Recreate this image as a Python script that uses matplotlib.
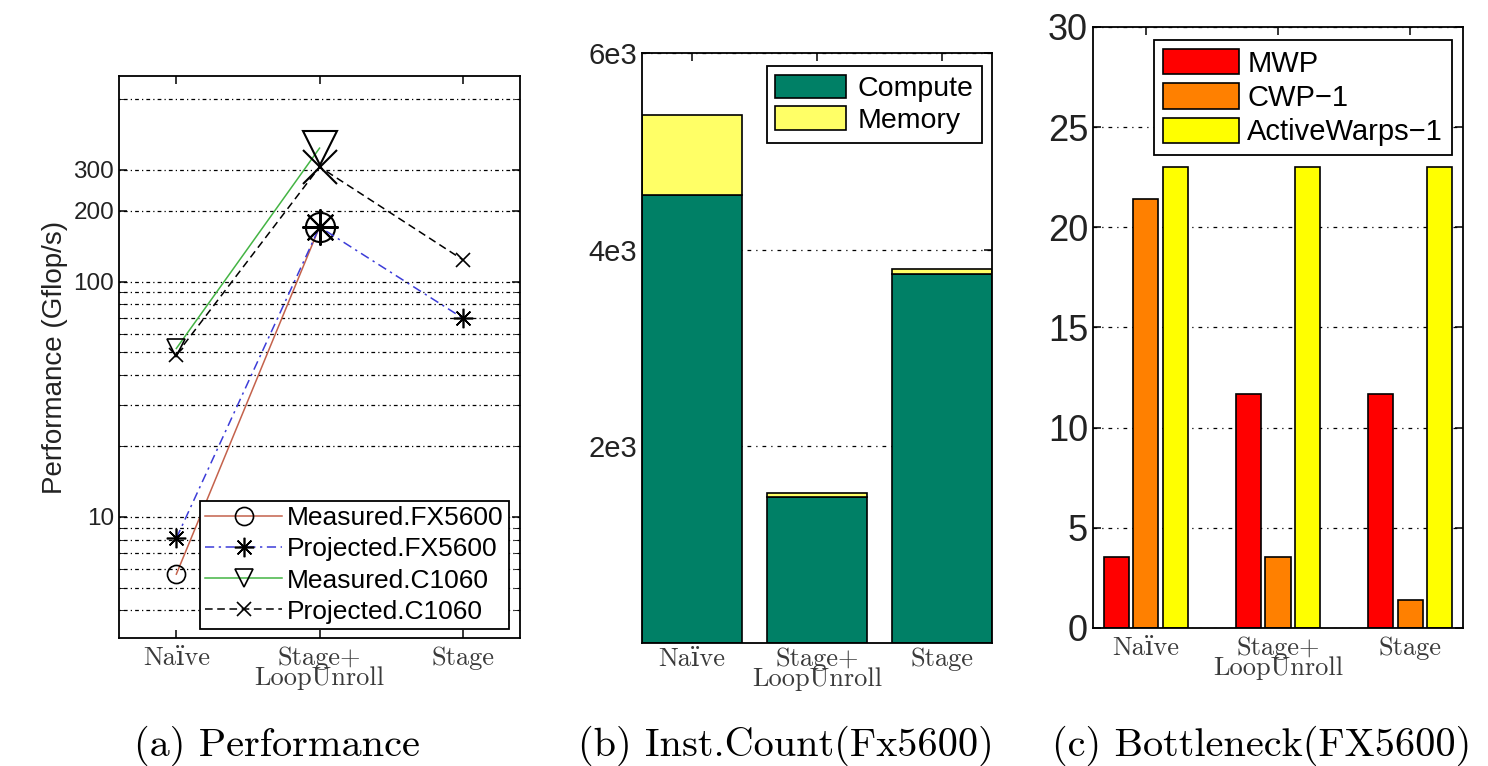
import numpy as np
import matplotlib
matplotlib.use("Agg")
from matplotlib import pyplot as plt
from matplotlib.ticker import FixedLocator, NullFormatter

# categories shared by all three panels
categories = ['Naïve', 'Stage+\nLoopUnroll', 'Stage']

# (a) performance in Gflop/s
perf_measured_fx5600 = [5.7, 171, np.nan]
perf_projected_fx5600 = [8.1, 171, 70]
perf_measured_c1060 = [52, 370, np.nan]
perf_projected_c1060 = [49, 308, 124]

# (b) instruction count split
inst_compute = [4560, 1480, 3750]
inst_memory = [810, 50, 50]

# (c) bottleneck numbers
mwp = [3.55, 11.7, 11.7]
cwp_1 = [21.4, 3.55, 1.4]
active_warps_1 = [23, 23, 23]

sans = ['Liberation Sans', 'DejaVu Sans']
serif = ['cmr10', 'DejaVu Serif']
plt.rcParams['font.family'] = sans
plt.rcParams['axes.linewidth'] = 1.3

grid_dots = (0, (1, 2.5, 3, 2.5))
grid_dashdot = (0, (3, 4, 1, 4))

fig = plt.figure(figsize=(14.88, 7.66), dpi=100)
ax_a = fig.add_axes([0.0800, 0.1671, 0.2695, 0.7337])
ax_b = fig.add_axes([0.4315, 0.1606, 0.2352, 0.7702])
ax_c = fig.add_axes([0.7345, 0.1802, 0.2487, 0.7846])

x = np.arange(1, len(categories) + 1)


def style_axes(ax, xsize):
    ax.set_xlim(0.6, 3.4)
    ax.set_xticks(x)
    ax.set_xticklabels(categories, family=serif, fontsize=xsize, color='#3a3a3a',
                       linespacing=0.82)
    ax.tick_params(direction='in', top=True, right=True, length=6, width=1.1)
    ax.tick_params(axis='x', pad=6)
    for s in ax.spines.values():
        s.set_color('black')


# ---- (a) Performance, log scale
series = [
    (perf_measured_fx5600, '#c4624c', '-', 'o', 'Measured.FX5600', 13, 21),
    (perf_projected_fx5600, '#3c3cd8', (0, (6, 3, 1.5, 3)), (8, 2, 0), 'Projected.FX5600', 14, 26),
    (perf_measured_c1060, '#44b444', '-', 'v', 'Measured.C1060', 13, 24),
    (perf_projected_c1060, 'black', (0, (5, 3)), 'x', 'Projected.C1060', 10, 24),
]
for vals, col, ls, mk, lab, ms, big in series:
    ax_a.plot(x, vals, color=col, linestyle=ls, linewidth=1.1, marker=mk,
              markersize=ms, markerfacecolor='none', markeredgecolor='black',
              markeredgewidth=1.2, markevery=[0, 2], label=lab)
    ax_a.plot(x[1], vals[1], linestyle='none', marker=mk, markersize=big,
              markerfacecolor='none', markeredgecolor='black', markeredgewidth=1.5)

ax_a.set_yscale('log')
ax_a.set_ylim(3.05, 750)
grid_vals = [4, 5, 6, 7, 8, 9, 10, 20, 30, 40, 50, 60, 70, 80, 90, 100, 200, 300, 600]
for g in grid_vals:
    ax_a.axhline(g, color='black', linestyle=grid_dots, linewidth=0.9, zorder=0)
ax_a.yaxis.set_major_locator(FixedLocator([10, 100, 200, 300]))
ax_a.yaxis.set_minor_locator(FixedLocator(grid_vals))
ax_a.yaxis.set_minor_formatter(NullFormatter())
ax_a.set_yticklabels(['10', '100', '200', '300'])
ax_a.tick_params(axis='y', labelsize=17.5, labelcolor='#222222')
ax_a.tick_params(axis='y', which='minor', direction='in', right=True, length=4)
ax_a.set_ylabel('Performance (Gflop/s)', fontsize=20, color='#222222', labelpad=4)
style_axes(ax_a, 19)
leg = ax_a.legend(loc='lower right', bbox_to_anchor=(0.9726, 0.016), borderaxespad=0,
                  fontsize=19, handlelength=2.9, handletextpad=0.2, labelspacing=0.27,
                  borderpad=0.2, fancybox=False, framealpha=1, edgecolor='black')
leg.get_frame().set_linewidth(1.3)

# ---- (b) instruction count, stacked
ax_b.bar(x, inst_compute, width=0.8, color='#008066', edgecolor='black', linewidth=1.2,
         label='Compute', zorder=2)
ax_b.bar(x, inst_memory, width=0.8, bottom=inst_compute, color='#ffff66',
         edgecolor='black', linewidth=1.2, label='Memory', zorder=2)
ax_b.set_ylim(0, 6000)
ax_b.set_yticks([2000, 4000, 6000])
ax_b.set_yticklabels(['2e3', '4e3', '6e3'])
ax_b.yaxis.grid(True, color='black', linestyle=grid_dashdot, linewidth=0.9)
ax_b.set_axisbelow(True)
ax_b.tick_params(axis='y', labelsize=21, labelcolor='#222222')
style_axes(ax_b, 19)
ax_b.tick_params(axis='x', pad=3)
leg = ax_b.legend(loc='upper right', bbox_to_anchor=(0.9714, 0.978), borderaxespad=0,
                  fontsize=20.5, handlelength=2.5, handleheight=0.9, handletextpad=0.4,
                  labelspacing=0.15, borderpad=0.3, fancybox=False, framealpha=1,
                  edgecolor='black')
leg.get_frame().set_linewidth(1.3)

# ---- (c) bottleneck, grouped bars
w = 0.19
step = 0.222
for off, vals, col, lab in [(-step, mwp, '#ff0000', 'MWP'),
                            (0, cwp_1, '#ff8000', 'CWP\u22121'),
                            (step, active_warps_1, '#ffff00', 'ActiveWarps\u22121')]:
    ax_c.bar(x + off, vals, width=w, color=col, edgecolor='black', linewidth=1.2,
             label=lab, zorder=2)
ax_c.set_ylim(0, 30)
ax_c.set_yticks(np.arange(0, 31, 5))
ax_c.yaxis.grid(True, color='black', linestyle=grid_dashdot, linewidth=0.9)
ax_c.set_axisbelow(True)
ax_c.tick_params(axis='y', labelsize=26, labelcolor='#222222')
style_axes(ax_c, 19)
leg = ax_c.legend(loc='upper right', bbox_to_anchor=(0.970, 0.978), borderaxespad=0,
                  fontsize=21, handlelength=2.6, handleheight=0.95, handletextpad=0.3,
                  labelspacing=0.2, borderpad=0.3, fancybox=False, framealpha=1,
                  edgecolor='black')
leg.get_frame().set_linewidth(1.3)

# sub-figure captions
fig.text(0.186, 0.026, '(a) Performance', family=serif, fontsize=29, ha='center', va='center')
fig.text(0.528, 0.026, '(b) Inst.Count(Fx5600)', family=serif, fontsize=29, ha='center', va='center')
fig.text(0.848, 0.026, '(c) Bottleneck(FX5600)', family=serif, fontsize=29, ha='center', va='center')

fig.savefig('out.png', dpi=100)
